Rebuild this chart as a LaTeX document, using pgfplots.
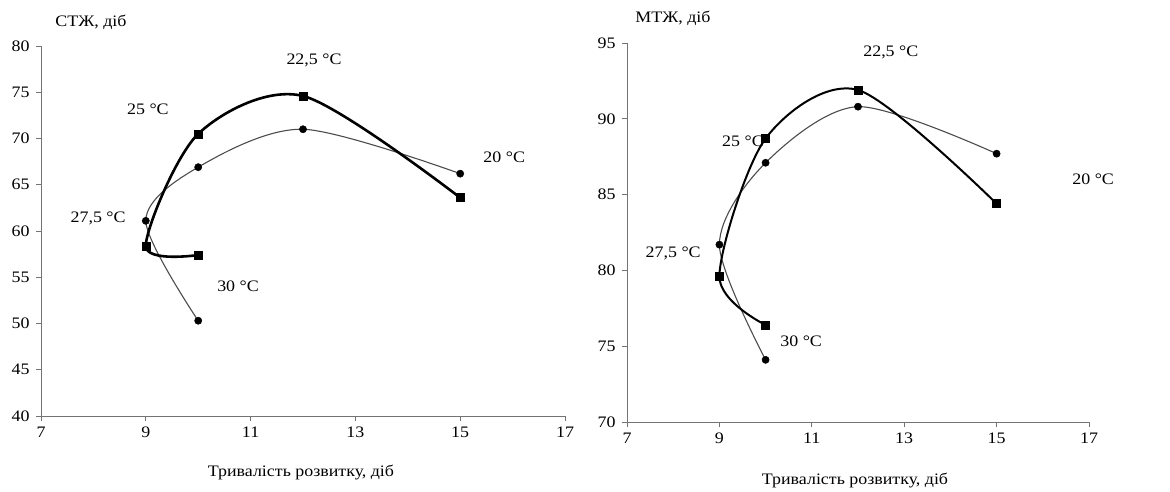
\documentclass[border=0pt]{standalone}
\usepackage{fontspec}
\setmainfont{Liberation Serif}[FakeStretch=1.12]
\usepackage{pgfplots}
\pgfplotsset{compat=1.18}
\begin{document}
\fontsize{16}{19}\selectfont
\begin{tikzpicture}[x=1pt,y=1pt]
\useasboundingbox (0,0) rectangle (1170,491);
\tikzset{lab/.style={font=\fontsize{16}{19}\selectfont}}
\pgfplotsset{
 myax/.style={scale only axis, anchor=south west,
   axis x line=bottom, axis y line=left,
   axis line style={-, black!55, line width=1pt},
   tick style={black!55, line width=1pt},
   tick align=outside, major tick length=5pt,
   xmin=7, xmax=17, xtick={7,9,...,17},
   tick label style={font=\fontsize{16}{19}\selectfont},
   yticklabel style={xshift=-1pt},
   /pgf/number format/assume math mode=true,
   clip=false},
 sq/.style={black, line width=2.6pt, smooth, mark=square*, mark size=4pt, mark options={solid, line width=0.5pt}},
 ci/.style={black!70, line width=1.1pt, smooth, mark=*, mark size=3.6pt, mark options={black, fill=black, line width=0.5pt}},
}
\begin{axis}[myax, at={(41pt,75pt)}, width=524pt, height=370pt, ymin=40, ymax=80, ytick={40,45,...,80}]
\addplot[ci] coordinates {(15,66.2)(12,71.0)(10,66.9)(9,61.1)(10,50.3)};
\addplot[sq] coordinates {(15,63.6)(12,74.6)(10,70.5)(9,58.4)(10,57.4)};
\node[lab] at (axis cs:12.21,78.4) {22,5 °C};
\node[lab] at (axis cs:9.04,73.2) {25 °C};
\node[lab] at (axis cs:8.09,61.4) {27,5 °C};
\node[lab] at (axis cs:10.76,54.05) {30 °C};
\node[lab] at (axis cs:15.84,68.0) {20 °C};
\end{axis}
\begin{axis}[myax, at={(627pt,69pt)}, width=462pt, height=379pt, ymin=70, ymax=95, ytick={70,75,...,95}]
\addplot[ci] coordinates {(15,87.7)(12,90.8)(10,87.1)(9,81.7)(10,74.1)};
\addplot[sq, line width=2pt] coordinates {(15,84.4)(12,91.9)(10,88.7)(9,79.6)(10,76.4)};
\node[lab] at (axis cs:12.71,94.4) {22,5 °C};
\node[lab] at (axis cs:9.51,88.5) {25 °C};
\node[lab] at (axis cs:8.0,81.15) {27,5 °C};
\node[lab] at (axis cs:10.77,75.3) {30 °C};
\node[lab] at (axis cs:17.09,86.0) {20 °C};
\end{axis}
\node[lab] at (91,469) {СТЖ, діб};
\node[lab] at (673,473) {МТЖ, діб};
\node[lab] at (301,19) {Тривалість розвитку, діб};
\node[lab] at (855,11) {Тривалість розвитку, діб};
\end{tikzpicture}
\end{document}
